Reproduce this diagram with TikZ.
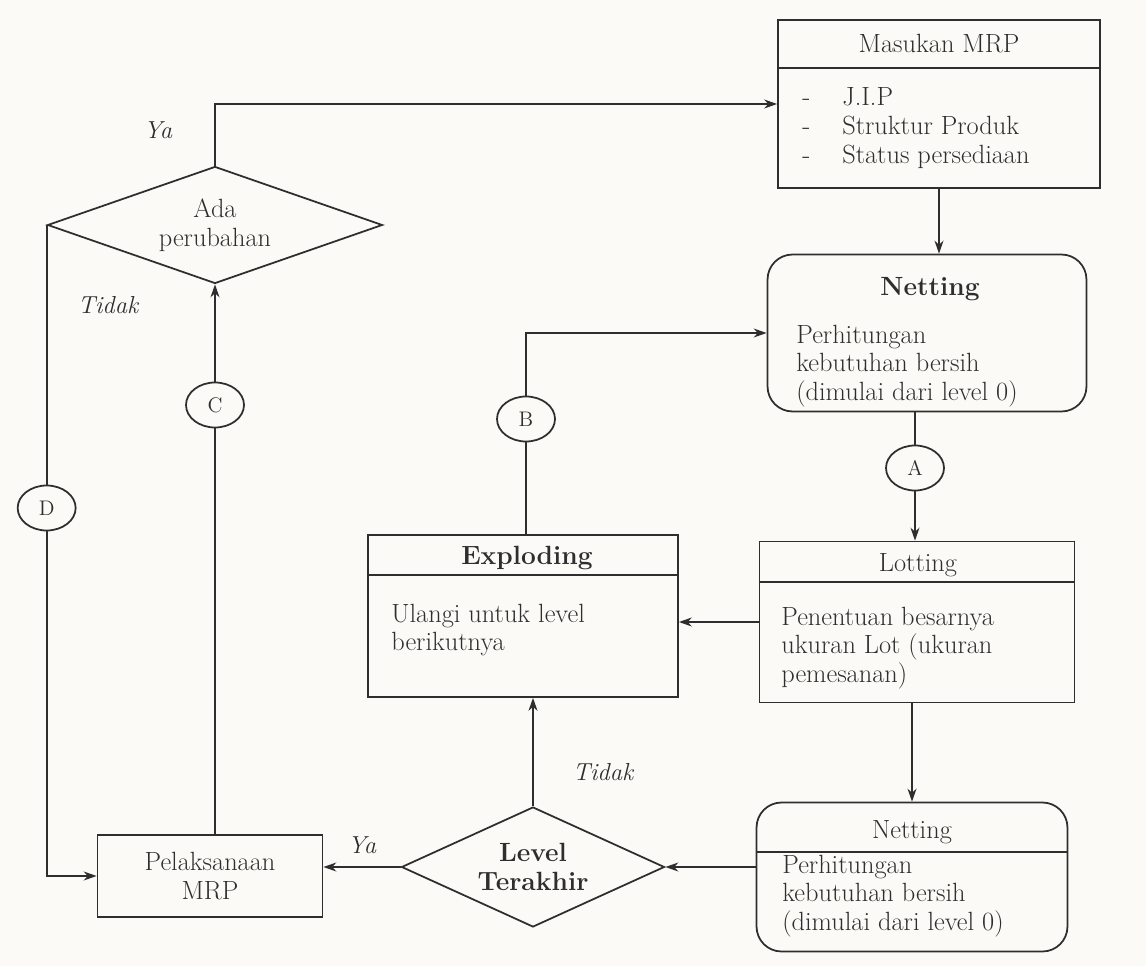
\documentclass[tikz,border=0pt]{standalone}
\usepackage{fontspec}
\usetikzlibrary{shapes.geometric, arrows.meta, positioning, calc}

\definecolor{ink}{HTML}{2E2E2E}
\definecolor{paper}{HTML}{FBFAF6}
\newcommand{\boxfont}{\fontsize{15}{16.4}\selectfont}
\newcommand{\dashitem}{\makebox[0.8cm][l]{-}}

\begin{document}
\begin{tikzpicture}[
    x=0.02cm, y=-0.02cm,
    color=ink,
    proc/.style={rectangle, draw=ink, line width=1pt, inner sep=0pt},
    rproc/.style={proc, rounded corners=0.5cm},
    decide/.style={diamond, draw=ink, line width=1pt, inner sep=0pt, align=center, font=\boxfont},
    ttl/.style={font=\boxfont, inner sep=0pt},
    ttlb/.style={font=\boxfont\bfseries, inner sep=0pt},
    body/.style={anchor=west, align=left, font=\boxfont, inner sep=0pt},
    conn/.style={ellipse, draw=ink, line width=1pt, minimum width=1.16cm, minimum height=0.9cm, inner sep=0pt, font=\fontsize{12}{14}\selectfont},
    lbl/.style={font=\fontsize{14}{16}\selectfont\itshape, inner sep=0pt},
    arr/.style={-{Stealth[length=2.6mm, width=1.8mm]}, ink, line width=1pt},
  ]
    \path[use as bounding box, fill=paper] (0,0) rectangle (1146,966);

    \node[proc, minimum width=6.44cm, minimum height=3.36cm] (mrpin) at (939,104) {};
    \draw[line width=1pt] (mrpin.west |- 0,68) -- (mrpin.east |- 0,68);
    \node[ttl] (mrpint) at (939,44) {Masukan MRP};
    \node[body] (mrpinb) at (802,128) {\dashitem J.I.P\\ \dashitem Struktur Produk\\ \dashitem Status persediaan};

    \node[rproc, minimum width=6.38cm, minimum height=3.14cm] (net1) at (927,333) {};
    \node[ttlb] (net1t) at (930,289) {Netting};
    \node[body] (net1b) at (796,366) {Perhitungan\\ kebutuhan bersih\\ (dimulai dari level 0)};

    \node[conn] (A) at (915,468) {A};

    \node[proc, minimum width=6.3cm, minimum height=3.22cm] (lot) at (917,622) {};
    \draw[line width=1pt] (lot.west |- 0,582) -- (lot.east |- 0,582);
    \node[ttl] (lott) at (918,565) {Lotting};
    \node[body] (lotb) at (781,648) {Penentuan besarnya\\ ukuran Lot (ukuran\\ pemesanan)};

    \node[rproc, minimum width=6.22cm, minimum height=2.98cm] (net2) at (912,877) {};
    \draw[line width=1pt] (net2.west |- 0,852) -- (net2.east |- 0,852);
    \node[ttl] (net2t) at (912,832) {Netting};
    \node[body] (net2b) at (782,896) {Perhitungan\\ kebutuhan bersih\\ (dimulai dari level 0)};

    \node[proc, minimum width=6.2cm, minimum height=3.24cm] (expl) at (523,616) {};
    \draw[line width=1pt] (expl.west |- 0,575) -- (expl.east |- 0,575);
    \node[ttlb] (explt) at (527,558) {Exploding};
    \node[body] (explb) at (391,630) {Ulangi untuk level\\ berikutnya};

    \node[decide, aspect=2.2, minimum width=5.26cm, minimum height=2.4cm, font=\boxfont\bfseries] (lvl) at (533,867) {Level\\ Terakhir};
    \node[proc, minimum width=4.5cm, minimum height=1.64cm, align=center, font=\boxfont] (pel) at (210,876) {Pelaksanaan\\ MRP};
    \node[decide, aspect=2.86, minimum width=6.7cm, minimum height=2.34cm] (ada) at (215,225) {Ada\\ perubahan};

    \node[conn] (B) at (526,419) {B};
    \node[conn] (C) at (215,405) {C};
    \node[conn] (D) at (ada.west |- 0,508) {D};

    \draw[arr] (ada.north) |- (mrpin.west);
    \draw[arr] (mrpin.south) -- (net1.north -| mrpin.south);
    \draw[line width=1pt] (net1.south -| A) -- (A);
    \draw[arr] (A) -- (A |- lot.north);
    \draw[arr] (lot.south -| net2.north) -- (net2.north);
    \draw[arr] (net2.west |- lvl.east) -- (lvl.east);
    \draw[arr] (lvl.west) -- (lvl.west -| pel.east);
    \draw[arr] (lvl.north) -- (lvl.north |- expl.south);
    \draw[arr] (lot.west) -- (lot.west -| expl.east);
    \draw[line width=1pt] (expl.north -| B) -- (B);
    \draw[arr] (B) |- (net1.west);
    \draw[line width=1pt] (pel.north -| C) -- (C);
    \draw[arr] (C) -- (C |- ada.south);
    \draw[line width=1pt] (ada.west) -- (D);
    \draw[arr] (D) |- (pel.west);

    \node[lbl] (ya1) at (158,130) {Ya};
    \node[lbl] (tidak1) at (108,305) {Tidak};
    \node[lbl] (tidak2) at (603,772) {Tidak};
    \node[lbl] (ya2) at (362,845) {Ya};
  \end{tikzpicture}
\end{document}
